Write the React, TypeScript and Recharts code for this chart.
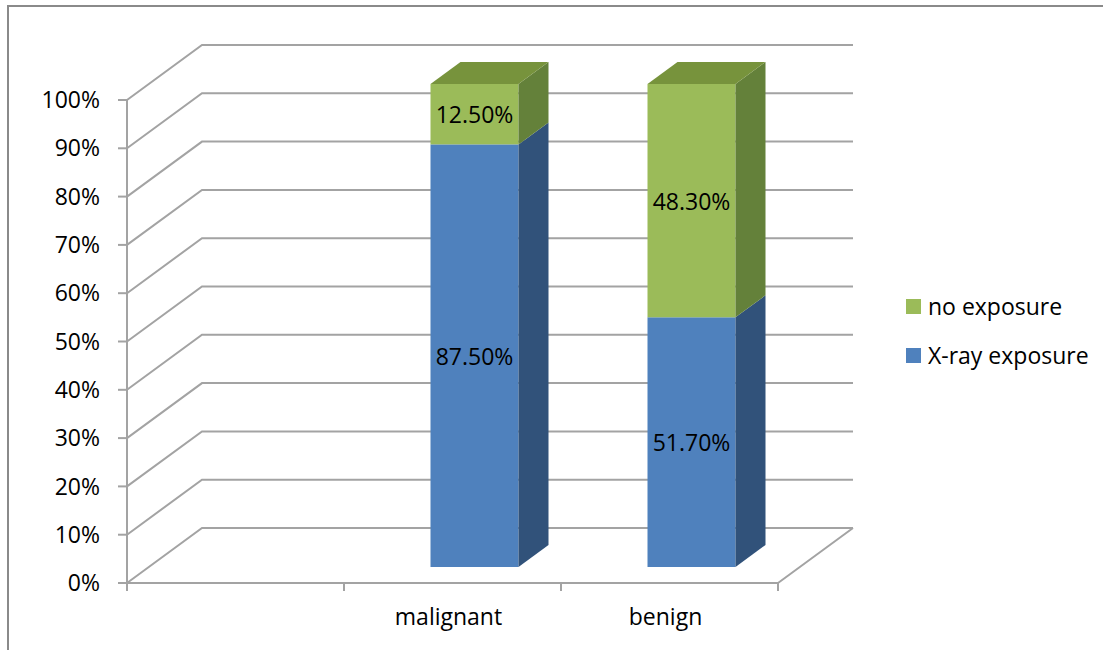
import { BarChart, Bar, XAxis, YAxis, CartesianGrid, LabelList } from 'recharts'

// categories along the x axis (first slot is empty in the source chart)
const categories = ['', 'malignant', 'benign']
// share of each group, stacked to 100%
const xrayExposure = [null, 0.875, 0.517]
const noExposure = [null, 0.125, 0.483]
const percentTicks = [0, 0.1, 0.2, 0.3, 0.4, 0.5, 0.6, 0.7, 0.8, 0.9, 1]

const series = [
  { key: 'xray', name: 'X-ray exposure', front: '#4f81bd', side: '#31527a', top: '#3f6aa0' },
  { key: 'none', name: 'no exposure', front: '#9bbb59', side: '#64813a', top: '#77933c' },
]

const data = categories.map((c, i) => ({
  category: c,
  xray: xrayExposure[i],
  none: noExposure[i],
}))

const FONT = '"Open Sans", sans-serif'
const FONT_SIZE = 23
const GRID = '#a3a3a3'

// layout of the fake 3d box
const PLOT_LEFT = 127
const PLOT_RIGHT = 778
const PLOT_TOP = 100
const PLOT_BOTTOM = 583
const DEPTH_X = 75
const DEPTH_Y = -55
// bar sits a bit into the depth
const BAR_DX = 21.5
const BAR_DY = -16
const SIDE_DX = 30
const SIDE_DY = -22

const pct = (v: number) => (v * 100).toFixed(2) + '%'

// eslint-disable-next-line @typescript-eslint/no-explicit-any
const gridLine = (props: any) => {
  const { x1, x2, y1 } = props
  let d = `M${x1},${y1} L${x1 + DEPTH_X},${y1 + DEPTH_Y} L${x2 + DEPTH_X},${y1 + DEPTH_Y}`
  if (Math.abs(y1 - PLOT_BOTTOM) < 1) {
    d += ` M${x2},${y1} L${x2 + DEPTH_X},${y1 + DEPTH_Y}`
  }
  return <path key={props.key} d={d} stroke={GRID} strokeWidth={2} fill="none" />
}

const makeShape = (s: typeof series[number], isTop: (p: any) => boolean) => {
  // eslint-disable-next-line @typescript-eslint/no-explicit-any
  return (props: any) => {
    const { x, y, width, height, payload } = props
    if (!height || height <= 0) return <g />
    const fx = x + BAR_DX
    const fy = y + BAR_DY
    const side = `${fx + width},${fy} ${fx + width + SIDE_DX},${fy + SIDE_DY} ${fx + width + SIDE_DX},${fy + height + SIDE_DY} ${fx + width},${fy + height}`
    const top = `${fx},${fy} ${fx + width},${fy} ${fx + width + SIDE_DX},${fy + SIDE_DY} ${fx + SIDE_DX},${fy + SIDE_DY}`
    return (
      <g>
        <rect x={fx} y={fy} width={width} height={height} fill={s.front} />
        <polygon points={side} fill={s.side} />
        {isTop(payload) && <polygon points={top} fill={s.top} />}
      </g>
    )
  }
}

// eslint-disable-next-line @typescript-eslint/no-explicit-any
const barLabel = (props: any) => {
  const { x, y, width, height, value } = props
  if (value == null) return null
  return (
    <text
      x={x + width / 2 + BAR_DX}
      y={y + height / 2 + BAR_DY}
      textAnchor="middle"
      dominantBaseline="central"
      fontSize={FONT_SIZE}
      fontFamily={FONT}
      fill="#000"
    >
      {pct(value)}
    </text>
  )
}

// eslint-disable-next-line @typescript-eslint/no-explicit-any
const CategoryTick = (props: any) => {
  const { x, payload, index } = props
  const band = (PLOT_RIGHT - PLOT_LEFT) / categories.length
  const left = x - band / 2
  return (
    <g>
      <line x1={left} y1={PLOT_BOTTOM} x2={left} y2={PLOT_BOTTOM + 8} stroke={GRID} strokeWidth={2} />
      {index === categories.length - 1 && (
        <line x1={x + band / 2} y1={PLOT_BOTTOM} x2={x + band / 2} y2={PLOT_BOTTOM + 8} stroke={GRID} strokeWidth={2} />
      )}
      <text x={x - 4} y={PLOT_BOTTOM + 42} textAnchor="middle" fontSize={FONT_SIZE} fontFamily={FONT} fill="#000">
        {payload.value}
      </text>
    </g>
  )
}

export default function App() {
  return (
    <div style={{ position: 'fixed', left: 0, top: 0, width: 1103, height: 650, overflow: 'hidden', background: '#fff' }}>
      <div
        style={{
          position: 'absolute',
          left: 7,
          top: 5,
          width: 1200,
          height: 800,
          borderLeft: '2px solid #8a8a8a',
          borderTop: '2px solid #8a8a8a',
        }}
      />
      <div style={{ position: 'absolute', left: 0, top: 0 }}>
        <BarChart
          width={1103}
          height={650}
          data={data}
          barSize={88}
          margin={{ top: PLOT_TOP, right: 1103 - PLOT_RIGHT, bottom: 650 - PLOT_BOTTOM - 40, left: PLOT_LEFT - 70 }}
        >
          <CartesianGrid vertical={false} horizontal={gridLine} />
          <XAxis
            dataKey="category"
            height={40}
            axisLine={{ stroke: GRID, strokeWidth: 2 }}
            tickLine={false}
            tick={<CategoryTick />}
            interval={0}
          />
          <YAxis
            width={70}
            domain={[0, 1]}
            ticks={percentTicks}
            tickFormatter={(v: number) => Math.round(v * 100) + '%'}
            axisLine={{ stroke: GRID, strokeWidth: 2 }}
            tickLine={{ stroke: GRID, strokeWidth: 2 }}
            tickSize={9}
            tickMargin={18}
            tick={{ fontSize: FONT_SIZE, fontFamily: FONT, fill: '#000' }}
          />
          <Bar
            dataKey="xray"
            stackId="a"
            isAnimationActive={false}
            shape={makeShape(series[0], (p) => p.none == null)}
          >
            <LabelList dataKey="xray" content={barLabel} />
          </Bar>
          <Bar
            dataKey="none"
            stackId="a"
            isAnimationActive={false}
            shape={makeShape(series[1], () => true)}
          >
            <LabelList dataKey="none" content={barLabel} />
          </Bar>
        </BarChart>
      </div>
      <div style={{ position: 'absolute', left: 906, top: 288, fontFamily: FONT, fontSize: FONT_SIZE, color: '#000' }}>
        {[series[1], series[0]].map((s) => (
          <div key={s.key} style={{ display: 'flex', alignItems: 'center', height: 36, marginBottom: 13 }}>
            <span style={{ width: 15, height: 15, background: s.front, display: 'inline-block', marginRight: 7 }} />
            <span>{s.name}</span>
          </div>
        ))}
      </div>
    </div>
  )
}
